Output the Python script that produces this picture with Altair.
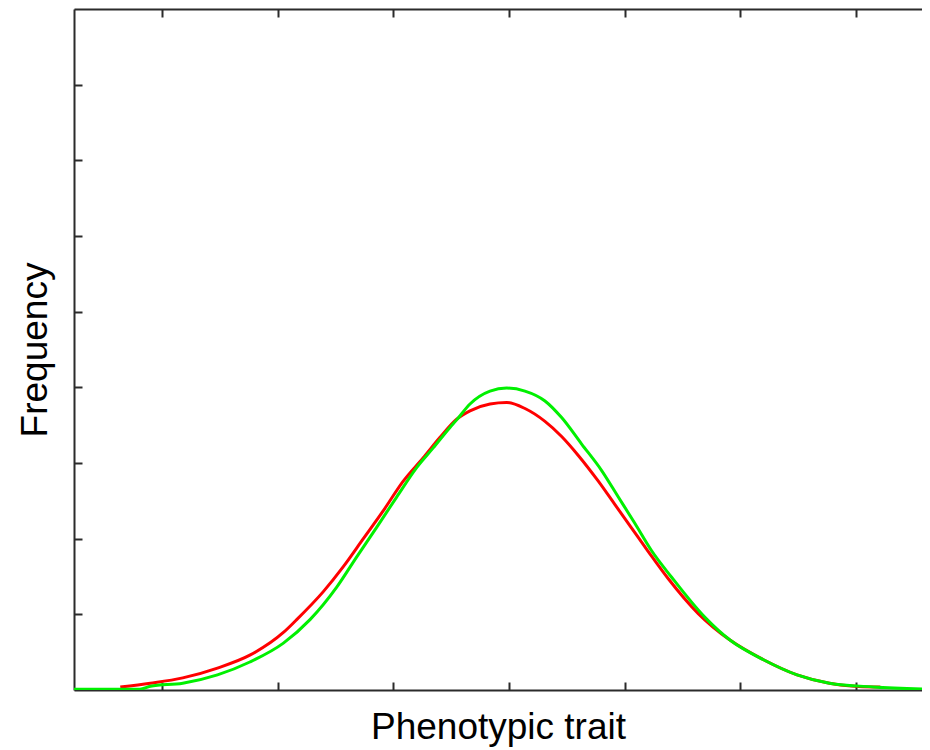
import altair as alt
import pandas as pd

# Values (x in tick units, y in frequency units)
red_x = [-3.36, -3.10, -2.82, -2.52, -2.24, -1.95, -1.835, -1.605, -1.432, -1.259, -1.086,
         -0.914, -0.741, -0.596, -0.452, -0.337, -0.164, -0.02, 0.138, 0.311, 0.455,
         0.599, 0.772, 0.916, 1.06, 1.204, 1.377, 1.636, 1.91, 2.20, 2.49, 2.77, 3.15, 3.21]
red_y = [0.04, 0.09, 0.16, 0.29, 0.46, 0.76, 0.93, 1.30, 1.63, 2.00, 2.37,
         2.76, 3.07, 3.34, 3.58, 3.69, 3.78, 3.80, 3.72, 3.55, 3.35,
         3.10, 2.76, 2.45, 2.14, 1.83, 1.47, 1.01, 0.66, 0.40, 0.20, 0.09, 0.04, 0.04]

green_x = [-3.76, -3.19, -3.10, -2.82, -2.52, -2.24, -1.95, -1.72, -1.489, -1.316, -1.144,
           -0.971, -0.798, -0.655, -0.51, -0.452, -0.337, -0.164, -0.02, 0.138, 0.311,
           0.455, 0.628, 0.801, 0.945, 1.089, 1.233, 1.406, 1.694, 1.91, 2.20, 2.49,
           2.77, 3.15, 3.64]
green_y = [0.01, 0.01, 0.05, 0.09, 0.20, 0.37, 0.62, 0.93, 1.36, 1.76, 2.15,
           2.55, 2.94, 3.20, 3.47, 3.57, 3.78, 3.95, 3.99, 3.95, 3.82,
           3.60, 3.25, 2.90, 2.55, 2.20, 1.84, 1.49, 0.96, 0.66, 0.40, 0.20,
           0.09, 0.04, 0.01]

x_ticks = [-3, -2, -1, 0, 1, 2, 3]
y_ticks = [1, 2, 3, 4, 5, 6, 7, 8]

red_df = pd.DataFrame({"x": red_x, "y": red_y})
green_df = pd.DataFrame({"x": green_x, "y": green_y})

W, H = 848, 681
AX = "#2b2b2b"
xs = alt.Scale(domain=[-3.76, 3.57], nice=False, zero=False)
ys = alt.Scale(domain=[0, 9], nice=False, zero=False)

common_axis = dict(labels=False, grid=False, domainColor=AX, domainWidth=2,
                   tickColor=AX, tickWidth=2, tickSize=8,
                   titleFont="Liberation Sans", titleFontWeight="normal",
                   titleColor="#000000")

# Layer 1: red line, bottom axis with title, left axis with title
red = alt.Chart(red_df).mark_line(color="#ff0000", strokeWidth=3, interpolate="monotone", clip=True).encode(
    x=alt.X("x:Q", scale=xs, axis=alt.Axis(orient="bottom", ticks=False, title="Phenotypic trait",
                                           titleFontSize=37, titlePadding=19, **common_axis)),
    y=alt.Y("y:Q", scale=ys, axis=alt.Axis(orient="left", ticks=False, title="Frequency",
                                           titleFontSize=37, titlePadding=20, **common_axis)),
)

# Layer 2: green line, inward ticks at bottom and left
green = alt.Chart(green_df).mark_line(color="#00f000", strokeWidth=3, interpolate="monotone", clip=True).encode(
    x=alt.X("x:Q", scale=xs, axis=alt.Axis(orient="top", offset=-H, values=x_ticks, domain=False,
                                           title=None, **common_axis)),
    y=alt.Y("y:Q", scale=ys, axis=alt.Axis(orient="right", offset=-W, values=y_ticks, domain=False,
                                           title=None, **common_axis)),
)

# Layer 3: invisible copy, top border with downward ticks
top = alt.Chart(green_df).mark_line(strokeOpacity=0).encode(
    x=alt.X("x:Q", scale=xs, axis=alt.Axis(orient="bottom", offset=-H, values=x_ticks, domain=True,
                                           title=None, **common_axis)),
    y=alt.Y("y:Q", scale=ys, axis=None),
)

chart = alt.layer(red, green, top).resolve_axis(x="independent", y="independent").properties(
    width=W, height=H,
    autosize=alt.AutoSizeParams(type="none"),
    padding={"left": 66, "top": 1, "right": 0, "bottom": 58},
).configure_view(stroke=None).configure(background="white")

chart.save("out.html", embed_options={"renderer": "svg", "actions": False})
